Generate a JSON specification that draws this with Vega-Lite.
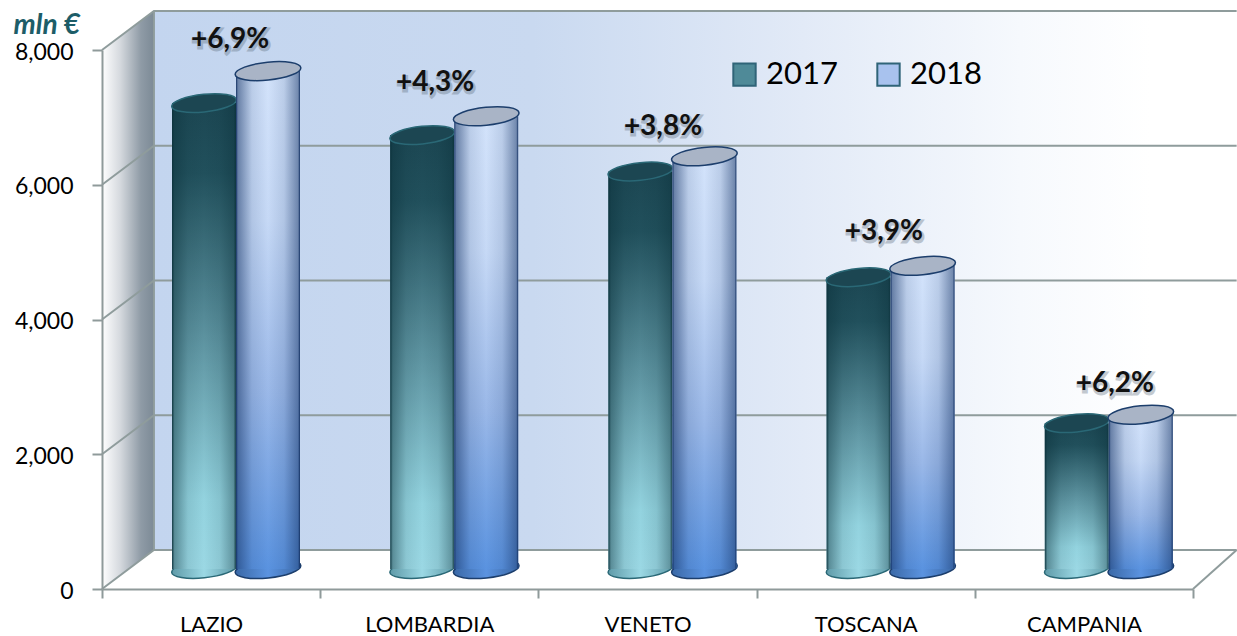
{"$schema":"https://vega.github.io/schema/vega-lite/v6.json","width":1091,"height":539,"padding":{"left":102,"top":50,"right":44,"bottom":47},"autosize":{"type":"none"},"background":"#ffffff","config":{"view":{"stroke":null},"font":"Lato"},
"datasets":{
"cyl":[{"cat":"LAZIO","year":"2017","v":6915},{"cat":"LAZIO","year":"2018","v":7390},{"cat":"LOMBARDIA","year":"2017","v":6440},{"cat":"LOMBARDIA","year":"2018","v":6720},{"cat":"VENETO","year":"2017","v":5900},{"cat":"VENETO","year":"2018","v":6125},{"cat":"TOSCANA","year":"2017","v":4330},{"cat":"TOSCANA","year":"2018","v":4500},{"cat":"CAMPANIA","year":"2017","v":2165},{"cat":"CAMPANIA","year":"2018","v":2290}],
"lab":[{"t":"+6,9%","x":0.587,"y":8147},{"t":"+4,3%","x":1.527,"y":7509},{"t":"+3,8%","x":2.571,"y":6856},{"t":"+3,9%","x":3.583,"y":5298},{"t":"+6,2%","x":4.642,"y":3042}],
"grid":[{"g":"a","x":0,"y":0},{"g":"a","x":0.238,"y":580},{"g":"a","x":5.2,"y":580},{"g":"b","x":0,"y":2000},{"g":"b","x":0.238,"y":2580},{"g":"b","x":5.2,"y":2580},{"g":"c","x":0,"y":4000},{"g":"c","x":0.238,"y":4580},{"g":"c","x":5.2,"y":4580},{"g":"d","x":0,"y":6000},{"g":"d","x":0.238,"y":6580},{"g":"d","x":5.2,"y":6580},{"g":"e","x":0,"y":8000},{"g":"e","x":0.238,"y":8580},{"g":"e","x":5.2,"y":8580},{"g":"f","x":5,"y":0},{"g":"f","x":5.2,"y":580},{"g":"h","x":0.238,"y":580},{"g":"h","x":0.238,"y":8580}]
},
"layer":[
{"layer":[
{"data":{"values":[{"x":0.238,"x2":5.2,"y":580,"y2":8580}]},"mark":{"type":"rect","color":{"gradient":"linear","x1":0,"y1":0,"x2":1,"y2":0,"stops":[{"offset":0,"color":"#c3d5ef"},{"offset":0.35,"color":"#c9d9f0"},{"offset":0.6,"color":"#e2eaf7"},{"offset":0.8,"color":"#f6f9fd"},{"offset":0.92,"color":"#ffffff"},{"offset":1,"color":"#ffffff"}]}},"encoding":{"x":{"field":"x","type":"quantitative","scale":{"domain":[0,5],"nice":false,"zero":false},"axis":null},"x2":{"field":"x2"},"y":{"field":"y","type":"quantitative","scale":{"domain":[0,8000],"nice":false},"axis":{"values":[0,2000,4000,6000,8000],"format":",d","zindex":1,"grid":false,"domainColor":"#8f9a9a","domainWidth":2,"tickColor":"#8f9a9a","tickWidth":2,"tickSize":10,"labelFontSize":23,"labelColor":"#000000","labelPadding":19,"labelOffset":2,"labelFont":"Lato","title":"mln €","titleAngle":0,"titleX":-89,"titleY":-17,"titleAlign":"left","titleBaseline":"alphabetic","titleFont":"Lato","titleFontSize":28,"titleFontStyle":"italic","titleFontWeight":"bold","titleColor":"#1d5d68"}},"y2":{"field":"y2"}}},
{"data":{"values":[{"x":0,"y":0,"y2":8000},{"x":0.238,"y":580,"y2":8580}]},"mark":{"type":"area","orient":"vertical","color":{"gradient":"linear","x1":0,"y1":0,"x2":1,"y2":0,"stops":[{"offset":0,"color":"#ffffff"},{"offset":0.35,"color":"#d5d9de"},{"offset":0.75,"color":"#8f9ba6"},{"offset":1,"color":"#7c8a96"}]}},"encoding":{"x":{"field":"x","type":"quantitative"},"y":{"field":"y","type":"quantitative"},"y2":{"field":"y2"}}},
{"data":{"name":"grid"},"mark":{"type":"line","color":"#8f9c9c","strokeWidth":2},"encoding":{"x":{"field":"x","type":"quantitative"},"y":{"field":"y","type":"quantitative"},"detail":{"field":"g"}}}
]},
{"data":{"name":"cyl"},"encoding":{"x":{"field":"cat","type":"nominal","sort":null,"scale":{"type":"band","paddingInner":0,"paddingOuter":0,"domain":["LAZIO","LOMBARDIA","VENETO","TOSCANA","CAMPANIA"]},"axis":{"title":null,"orient":"bottom","labelAngle":0,"tickBand":"extent","zindex":1,"domainColor":"#8f9a9a","domainWidth":2,"tickColor":"#8f9a9a","tickWidth":2,"tickSize":9,"labelFontSize":22,"labelColor":"#000000","labelPadding":16,"labelFont":"Lato"}},"xOffset":{"field":"year","type":"nominal","scale":{"type":"band","domain":["2017","2018"],"range":[70,198],"paddingInner":0,"paddingOuter":0}}},
"layer":[
{"mark":{"type":"bar","opacity":0},"encoding":{"y":{"datum":0},"y2":{"datum":0},"color":{"field":"year","type":"nominal","scale":{"domain":["2017","2018"],"range":["#4f8a98","#a8c2ee"]},"legend":{"title":null,"orient":"none","legendX":627,"legendY":9,"direction":"horizontal","columns":2,"symbolType":"square","symbolSize":500,"symbolOpacity":1,"symbolStrokeColor":"#2f6478","symbolStrokeWidth":2,"labelFontSize":31,"labelColor":"#000000","labelFont":"Lato","labelOffset":6,"columnPadding":35}}}},
{"transform":[{"filter":"datum.year=='2017'"}],"layer":[
{"mark":{"type":"point","filled":true,"opacity":1,"size":4225,"shape":"M-0.995,0.1A1,0.27,-6,1,1,0.995,-0.1A1,0.27,-6,1,1,-0.995,0.1Z","yOffset":-20,"strokeWidth":1.5,"stroke":"#2a6876","fill":{"gradient":"linear","x1":0,"y1":0,"x2":1,"y2":0,"stops":[{"offset":0,"color":"#5f9aa8"},{"offset":0.5,"color":"#9bd8e4"},{"offset":1,"color":"#5f9aa8"}]}},"encoding":{"y":{"datum":0}}},
{"mark":{"type":"bar","yOffset":-20,"y2Offset":-20,"color":{"gradient":"linear","x1":0,"y1":0,"x2":0,"y2":1,"stops":[{"offset":0,"color":"#1c4753"},{"offset":0.15,"color":"#21505c"},{"offset":0.5,"color":"#5c929f"},{"offset":0.85,"color":"#93d3df"},{"offset":1,"color":"#9bd8e4"}]}},"encoding":{"y":{"field":"v","type":"quantitative"},"y2":{"datum":0}}},
{"mark":{"type":"bar","yOffset":-20,"y2Offset":-20,"color":{"gradient":"linear","x1":0,"y1":0,"x2":1,"y2":0,"stops":[{"offset":0,"color":"rgba(12,50,60,0.95)"},{"offset":0.04,"color":"rgba(12,50,60,0.45)"},{"offset":0.25,"color":"rgba(12,50,60,0.1)"},{"offset":0.5,"color":"rgba(12,50,60,0)"},{"offset":0.75,"color":"rgba(12,50,60,0.1)"},{"offset":0.96,"color":"rgba(12,50,60,0.4)"},{"offset":1,"color":"rgba(12,50,60,0.9)"}]}},"encoding":{"y":{"field":"v","type":"quantitative"},"y2":{"datum":0}}},
{"mark":{"type":"point","filled":true,"opacity":1,"size":4225,"shape":"M-0.995,0.1A1,0.27,-6,1,1,0.995,-0.1A1,0.27,-6,1,1,-0.995,0.1Z","yOffset":-20,"strokeWidth":1.5,"stroke":"#2a6876","fill":"#1c4652"},"encoding":{"y":{"field":"v","type":"quantitative"}}}
]},
{"transform":[{"filter":"datum.year=='2018'"}],"layer":[
{"mark":{"type":"point","filled":true,"opacity":1,"size":4356,"shape":"M-0.995,0.1A1,0.27,-6,1,1,0.995,-0.1A1,0.27,-6,1,1,-0.995,0.1Z","yOffset":-20,"strokeWidth":1.5,"stroke":"#1c3e6c","fill":{"gradient":"linear","x1":0,"y1":0,"x2":1,"y2":0,"stops":[{"offset":0,"color":"#3a68a6"},{"offset":0.5,"color":"#5b93e0"},{"offset":1,"color":"#3a68a6"}]}},"encoding":{"y":{"datum":0}}},
{"mark":{"type":"bar","yOffset":-20,"y2Offset":-20,"color":{"gradient":"linear","x1":0,"y1":0,"x2":0,"y2":1,"stops":[{"offset":0,"color":"#d3e3fb"},{"offset":0.3,"color":"#c6d9f6"},{"offset":0.65,"color":"#9ab8e8"},{"offset":1,"color":"#5a93e0"}]}},"encoding":{"y":{"field":"v","type":"quantitative"},"y2":{"datum":0}}},
{"mark":{"type":"bar","yOffset":-20,"y2Offset":-20,"color":{"gradient":"linear","x1":0,"y1":0,"x2":1,"y2":0,"stops":[{"offset":0,"color":"rgba(20,50,100,1)"},{"offset":0.03,"color":"rgba(20,50,100,0.55)"},{"offset":0.25,"color":"rgba(20,50,100,0.12)"},{"offset":0.5,"color":"rgba(20,50,100,0)"},{"offset":0.75,"color":"rgba(20,50,100,0.12)"},{"offset":0.97,"color":"rgba(20,50,100,0.5)"},{"offset":1,"color":"rgba(20,50,100,1)"}]}},"encoding":{"y":{"field":"v","type":"quantitative"},"y2":{"datum":0}}},
{"mark":{"type":"point","filled":true,"opacity":1,"size":4356,"shape":"M-0.995,0.1A1,0.27,-6,1,1,0.995,-0.1A1,0.27,-6,1,1,-0.995,0.1Z","yOffset":-20,"strokeWidth":1.5,"stroke":"#1c3e6c","fill":"#a9b4c6"},"encoding":{"y":{"field":"v","type":"quantitative"}}}
]}
]},
{"data":{"name":"lab"},"encoding":{"x":{"field":"x","type":"quantitative","scale":{"domain":[0,5],"nice":false,"zero":false},"axis":null},"y":{"field":"y","type":"quantitative"},"text":{"field":"t"}},"layer":[
{"mark":{"type":"text","font":"Lato","fontSize":28,"fontWeight":"bold","color":"#5a6a7a","opacity":0.35,"stroke":"#5a6a7a","strokeWidth":3,"dx":1,"dy":2}},
{"mark":{"type":"text","font":"Lato","fontSize":28,"fontWeight":"bold","color":"#111111"}}
]}
],
"resolve":{"scale":{"x":"independent"},"axis":{"x":"independent"}}}
